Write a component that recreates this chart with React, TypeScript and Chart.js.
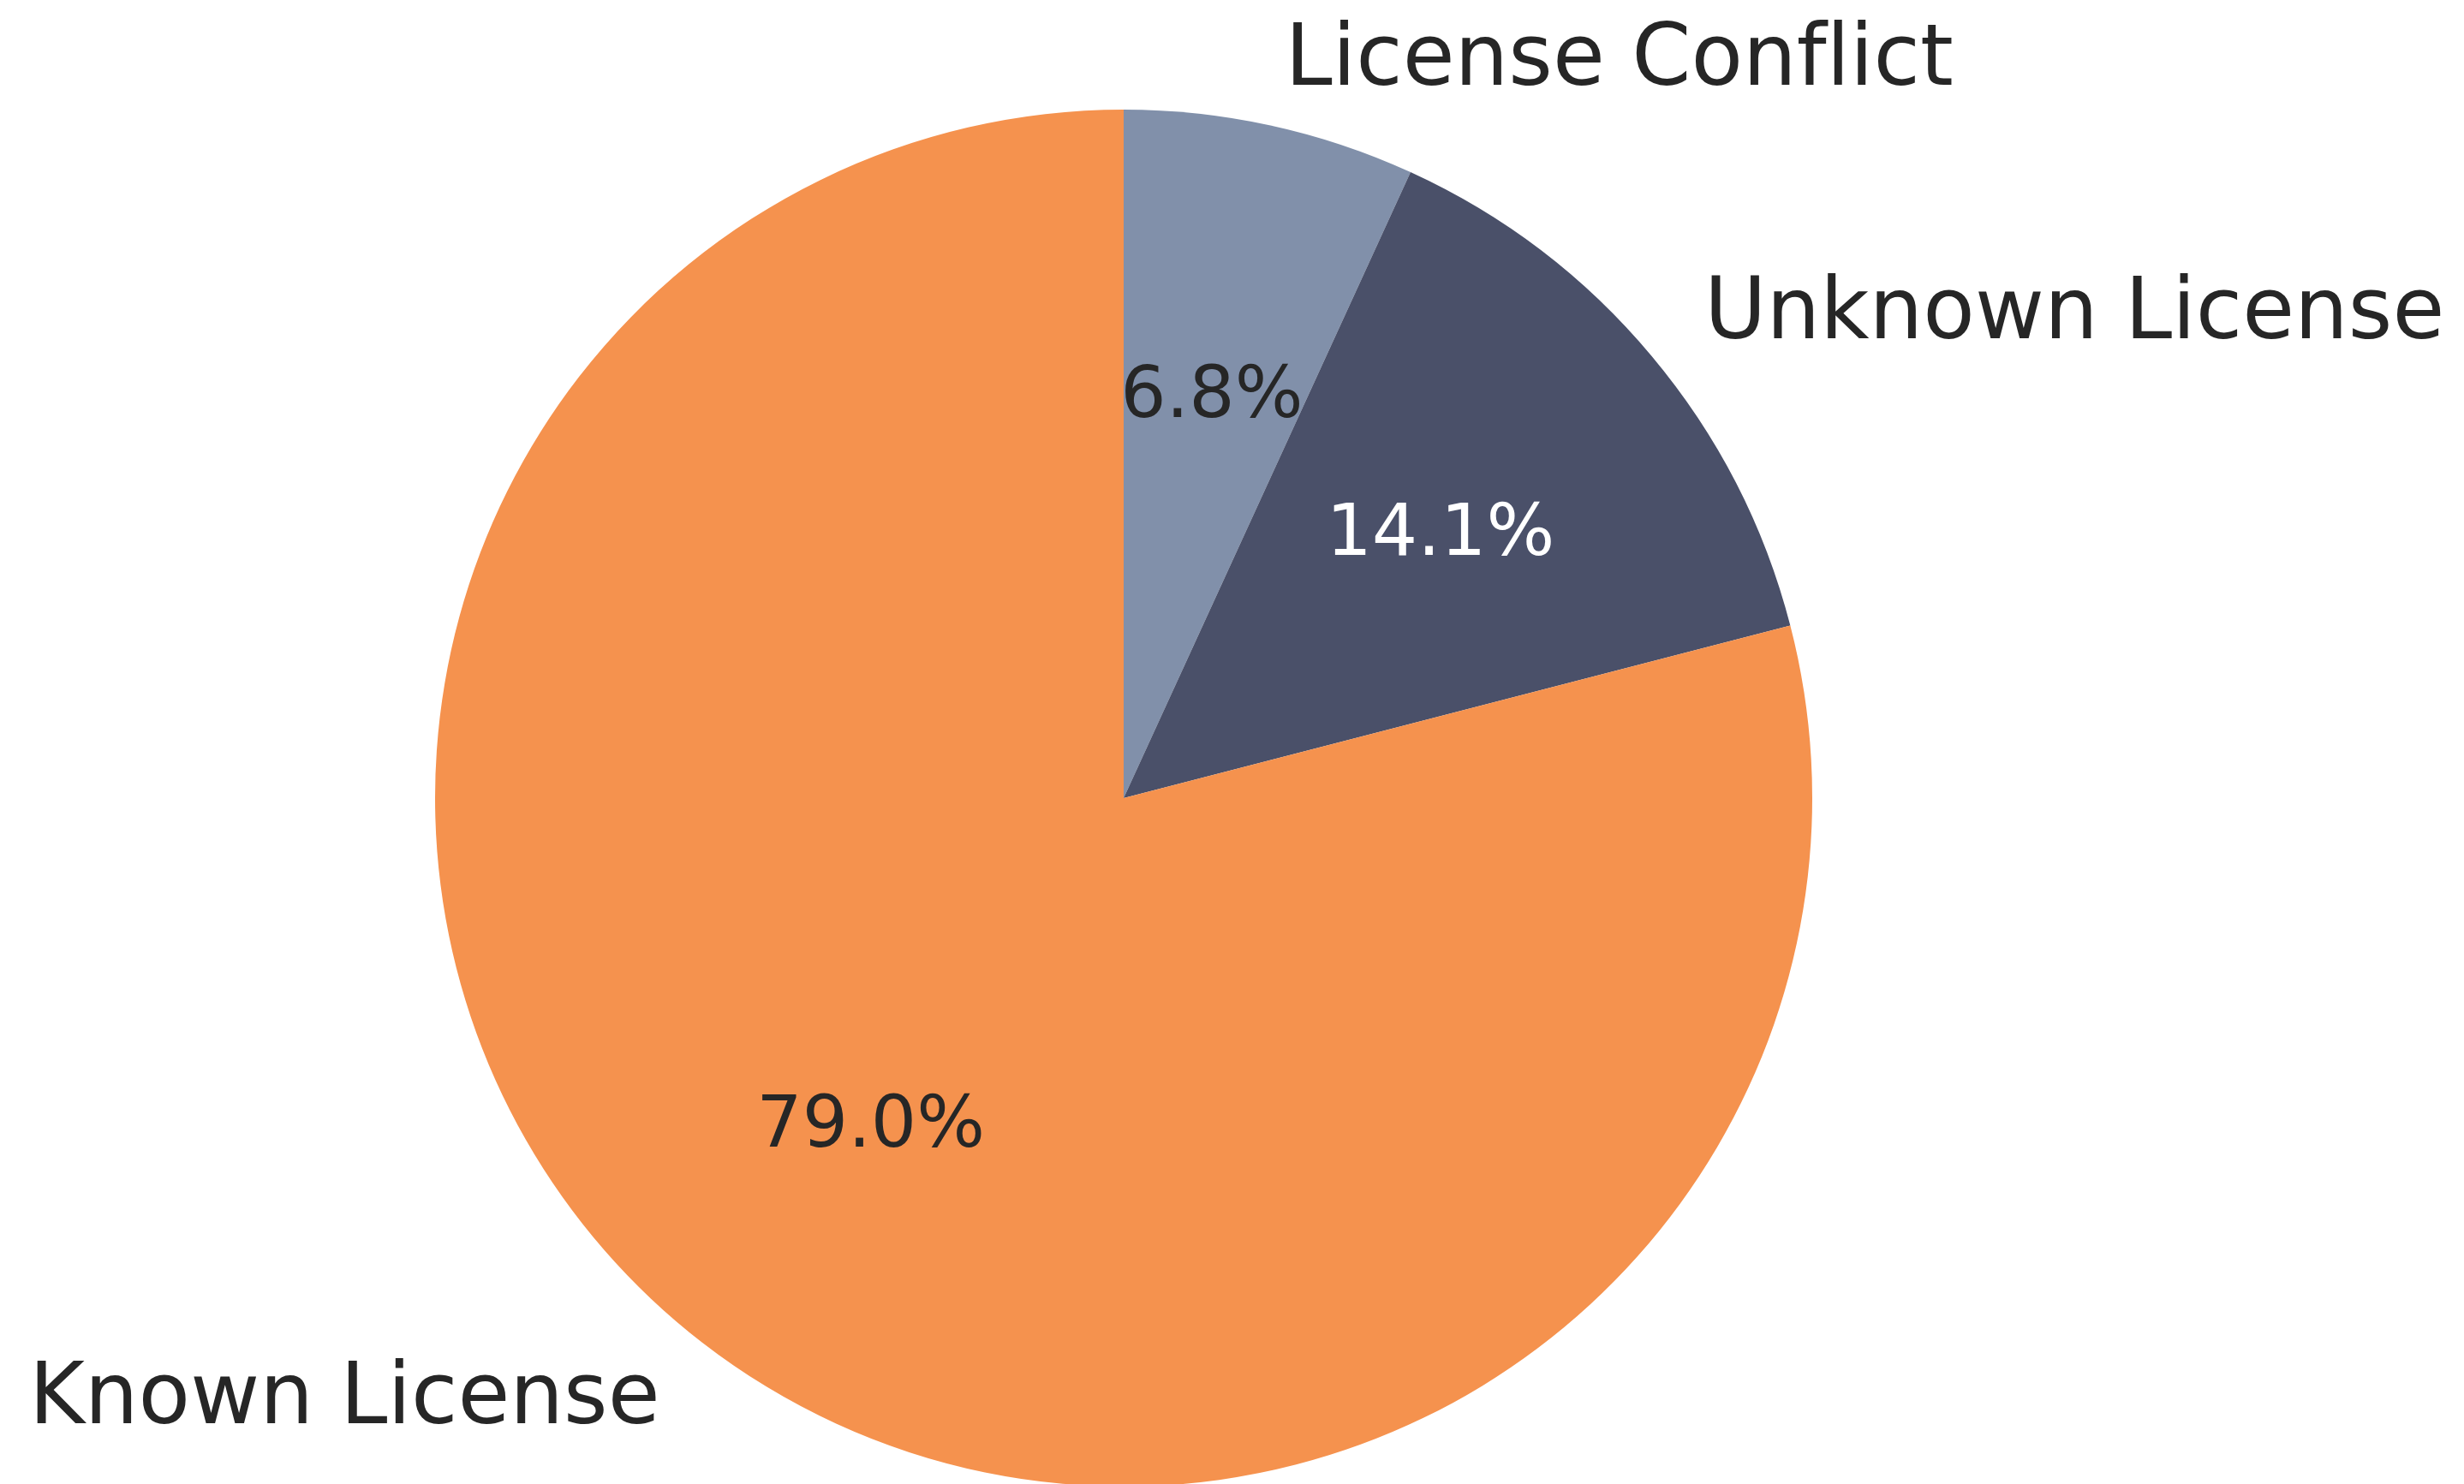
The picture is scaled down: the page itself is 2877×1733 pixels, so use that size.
import React, { useEffect, useRef } from "react";
import { Chart, registerables } from "chart.js";

Chart.register(...registerables);

const categories = ["License Conflict", "Unknown License", "Known License"];
const shares = [6.84, 14.13, 79.03];
const sliceColors = ["#8190AA", "#4A5069", "#F5924E"];
const pctTextColors = ["#262626", "#FFFFFF", "#262626"];

const W = 2877;
const H = 1740;

// prevent the "fl" ligature so the text draws like the reference
const noLig = (s: string) => s.replace(/f(?=[lif])/g, "f\u200C");

const labelPlugin = {
  id: "pieLabels",
  afterDatasetsDraw(chart: any) {
    const ctx = chart.ctx;
    const meta = chart.getDatasetMeta(0);
    const data = chart.data.datasets[0].data as number[];
    const total = data.reduce((a, b) => a + b, 0);
    ctx.save();
    meta.data.forEach((arc: any, i: number) => {
      const { x, y, startAngle, endAngle, outerRadius } = arc.getProps(
        ["x", "y", "startAngle", "endAngle", "outerRadius"],
        true
      );
      const mid = (startAngle + endAngle) / 2;
      const cx = Math.cos(mid);
      const cy = Math.sin(mid);
      // outer category label
      const lx = x + cx * outerRadius * 1.1;
      const ly = y + cy * outerRadius * 1.1 + 5;
      ctx.font = "99px 'DejaVu Sans'";
      ctx.fillStyle = "#262626";
      ctx.textBaseline = "middle";
      ctx.textAlign = cx >= 0 ? "left" : "right";
      ctx.fillText(noLig(categories[i]), lx, ly);
      // percentage label
      const px = x + cx * outerRadius * 0.6;
      const py = y + cy * outerRadius * 0.6 + 4;
      ctx.font = "84px 'DejaVu Sans'";
      ctx.fillStyle = pctTextColors[i];
      ctx.textAlign = "center";
      ctx.fillText(((data[i] / total) * 100).toFixed(1) + "%", px, py);
    });
    ctx.restore();
  },
};

export default function App() {
  const ref = useRef<HTMLCanvasElement | null>(null);
  useEffect(() => {
    document.body.style.margin = "0";
    if (!ref.current) return;
    const chart = new Chart(ref.current, {
      type: "pie",
      data: {
        labels: categories,
        datasets: [
          {
            data: shares,
            backgroundColor: sliceColors,
            borderWidth: 0,
          },
        ],
      },
      options: {
        responsive: false,
        animation: false,
        events: [],
        layout: {
          padding: { left: 508, right: 761, top: 128, bottom: 4 },
        },
        plugins: {
          legend: { display: false },
          tooltip: { enabled: false },
        },
      },
      plugins: [labelPlugin],
    });
    return () => chart.destroy();
  }, []);
  return (
    <div
      style={{
        position: "fixed",
        left: 0,
        top: 0,
        width: 2877,
        height: 1733,
        overflow: "hidden",
        background: "#ffffff",
      }}
    >
      <canvas ref={ref} width={W} height={H} style={{ display: "block" }} />
    </div>
  );
}
